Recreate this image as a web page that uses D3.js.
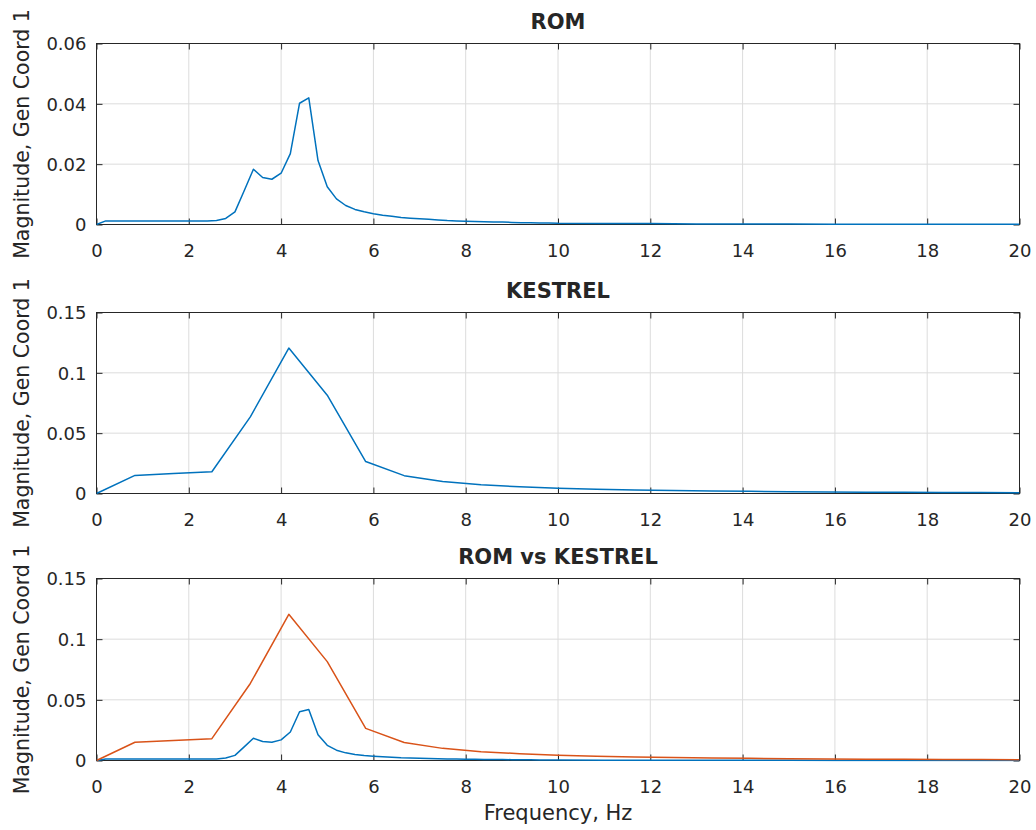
<!DOCTYPE html>
<html>
<head>
<meta charset="utf-8">
<script src="https://cdn.jsdelivr.net/npm/d3@7"></script>
<style>
  html, body { margin: 0; padding: 0; background: #fff; }
  svg { display: block; }
  text { font-family: "DejaVu Sans", "Liberation Sans", Arial, sans-serif; fill: #262626; }
</style>
</head>
<body>
<svg id="chart" width="1036" height="830"></svg>
<script>
// ---------- DATA ----------
const romFreq = [
  0.0, 0.2, 0.4, 0.6, 0.8, 1.0, 1.2, 1.4, 1.6, 1.8,
  2.0, 2.2, 2.4, 2.6, 2.8, 3.0, 3.2, 3.4, 3.6, 3.8,
  4.0, 4.2, 4.4, 4.6, 4.8, 5.0, 5.2, 5.4, 5.6, 5.8,
  6.0, 6.2, 6.4, 6.6, 6.8, 7.0, 7.2, 7.4, 7.6, 7.8,
  8.0, 8.2, 8.4, 8.6, 8.8, 9.0, 9.2, 9.4, 9.6, 9.8,
  10.0, 11, 12, 13, 14, 15, 16, 17, 18, 19, 20
];
const romMag = [
  0.0000, 0.0012, 0.0012, 0.0012, 0.0012, 0.0012, 0.0012, 0.0012, 0.0012, 0.0012,
  0.0012, 0.0012, 0.0012, 0.0013, 0.0020, 0.0042, 0.0112, 0.0183, 0.0156, 0.0150,
  0.0170, 0.0235, 0.0402, 0.0420, 0.0212, 0.0125, 0.0085, 0.0063, 0.0050, 0.0042,
  0.0036, 0.0031, 0.0027, 0.0023, 0.0021, 0.0019, 0.0017, 0.0015, 0.0013, 0.0012,
  0.0011, 0.0010, 0.0009, 0.0008, 0.0008, 0.0007, 0.0006, 0.0006, 0.0005, 0.0005,
  0.0004, 0.0003, 0.0003, 0.0002, 0.0002, 0.00015, 0.0001, 0.0001, 0.0001, 0.0001, 0.0001
];
const kestrelFreq = [
  0, 0.833, 1.667, 2.5, 3.333, 4.167, 5.0, 5.833, 6.667, 7.5,
  8.333, 9.167, 10.0, 10.833, 11.667, 12.5, 13.333, 14.167, 15.0, 15.833,
  16.667, 17.5, 18.333, 19.167, 20.0
];
const kestrelMag = [
  0.0000, 0.0150, 0.0165, 0.0180, 0.0635, 0.1205, 0.0815, 0.0265, 0.0148, 0.0100,
  0.0072, 0.0056, 0.0044, 0.0035, 0.0029, 0.0025, 0.0021, 0.0018, 0.0015, 0.0013,
  0.0011, 0.0010, 0.0009, 0.0008, 0.0007
];
const xTicks = [0, 2, 4, 6, 8, 10, 12, 14, 16, 18, 20];
const yTicksRom = [0, 0.02, 0.04, 0.06];
const yTicksKes = [0, 0.05, 0.1, 0.15];
const titles = ["ROM", "KESTREL", "ROM vs KESTREL"];
const yLabel = "Magnitude, Gen Coord 1";
const xLabel = "Frequency, Hz";
const colors = { rom: "#0072BD", kestrel: "#D95319" };

// ---------- LAYOUT ----------
const svg = d3.select("#chart");
const X0 = 96.5, X1 = 1019.5;
const panels = [
  { top: 43.5,  bottom: 224.5, yMax: 0.06, yTicks: yTicksRom, fmt: d3.format(".2~f"),
    series: [{ f: romFreq, m: romMag, c: colors.rom }] },
  { top: 312.5, bottom: 493.5, yMax: 0.15, yTicks: yTicksKes, fmt: d3.format(".2~f"),
    series: [{ f: kestrelFreq, m: kestrelMag, c: colors.rom }] },
  { top: 578.5, bottom: 760.5, yMax: 0.15, yTicks: yTicksKes, fmt: d3.format(".2~f"),
    series: [{ f: romFreq, m: romMag, c: colors.rom }, { f: kestrelFreq, m: kestrelMag, c: colors.kestrel }] }
];

const x = d3.scaleLinear().domain([0, 20]).range([X0, X1]);
const axisColor = "#262626";
const gridColor = "#dcdcdc";
const tickLen = 6;

panels.forEach((p, i) => {
  const y = d3.scaleLinear().domain([0, p.yMax]).range([p.bottom, p.top]);
  const g = svg.append("g");

  const clipId = "clip" + i;
  svg.append("clipPath").attr("id", clipId)
    .append("rect").attr("x", X0).attr("y", p.top - 1).attr("width", X1 - X0).attr("height", p.bottom - p.top + 2);

  // grid
  g.append("g").selectAll("line").data(xTicks).join("line")
    .attr("x1", d => x(d)).attr("x2", d => x(d))
    .attr("y1", p.top).attr("y2", p.bottom)
    .attr("stroke", gridColor).attr("stroke-width", 1);
  g.append("g").selectAll("line").data(p.yTicks).join("line")
    .attr("x1", X0).attr("x2", X1)
    .attr("y1", d => y(d)).attr("y2", d => y(d))
    .attr("stroke", gridColor).attr("stroke-width", 1);

  const xAxisB = d3.axisBottom(x).tickValues(xTicks).tickSizeInner(-tickLen).tickSizeOuter(0).tickPadding(14);
  const gxb = g.append("g").attr("transform", `translate(0,${p.bottom})`).call(xAxisB);
  const xAxisT = d3.axisTop(x).tickValues(xTicks).tickSizeInner(-tickLen).tickSizeOuter(0).tickFormat("");
  const gxt = g.append("g").attr("transform", `translate(0,${p.top})`).call(xAxisT);
  const yAxisL = d3.axisLeft(y).tickValues(p.yTicks).tickSizeInner(-tickLen).tickSizeOuter(0).tickPadding(16).tickFormat(p.fmt);
  const gyl = g.append("g").attr("transform", `translate(${X0},0)`).call(yAxisL);
  const yAxisR = d3.axisRight(y).tickValues(p.yTicks).tickSizeInner(-tickLen).tickSizeOuter(0).tickFormat("");
  const gyr = g.append("g").attr("transform", `translate(${X1},0)`).call(yAxisR);

  [gxb, gxt, gyl, gyr].forEach(a => {
    a.select(".domain").remove();
    a.selectAll("line").attr("stroke", axisColor).attr("stroke-width", 1);
    a.selectAll("text").attr("fill", axisColor)
      .style("font-family", '"DejaVu Sans", "Liberation Sans", Arial, sans-serif')
      .style("font-size", "18px");
  });
  gxb.selectAll("text").attr("dy", null).attr("y", 32);
  gyl.selectAll("text").attr("x", -10).attr("dy", "0.36em");

  // box
  g.append("rect").attr("x", X0).attr("y", p.top).attr("width", X1 - X0).attr("height", p.bottom - p.top)
    .attr("fill", "none").attr("stroke", axisColor).attr("stroke-width", 1);

  // lines
  const line = d3.line().x(d => x(d[0])).y(d => y(d[1]));
  p.series.forEach(s => {
    const pts = s.f.map((fv, k) => [fv, s.m[k]]);
    g.append("path").datum(pts)
      .attr("clip-path", `url(#${clipId})`)
      .attr("d", line)
      .attr("fill", "none").attr("stroke", s.c).attr("stroke-width", 1.5)
      .attr("stroke-linejoin", "round");
  });

  // title
  svg.append("text").attr("x", (X0 + X1) / 2).attr("y", p.top - 15)
    .attr("text-anchor", "middle").style("font-size", "21px").style("font-weight", "bold")
    .attr("fill", "#000").text(titles[i]);

  // y label
  const cy = (p.top + p.bottom) / 2;
  svg.append("text").attr("transform", `translate(29,${cy}) rotate(-90)`)
    .attr("text-anchor", "middle").style("font-size", "20.5px")
    .attr("fill", axisColor).text(yLabel);
});

// x label
svg.append("text").attr("x", (X0 + X1) / 2).attr("y", 820)
  .attr("text-anchor", "middle").style("font-size", "21px")
  .attr("fill", axisColor).text(xLabel);
</script>
</body>
</html>
